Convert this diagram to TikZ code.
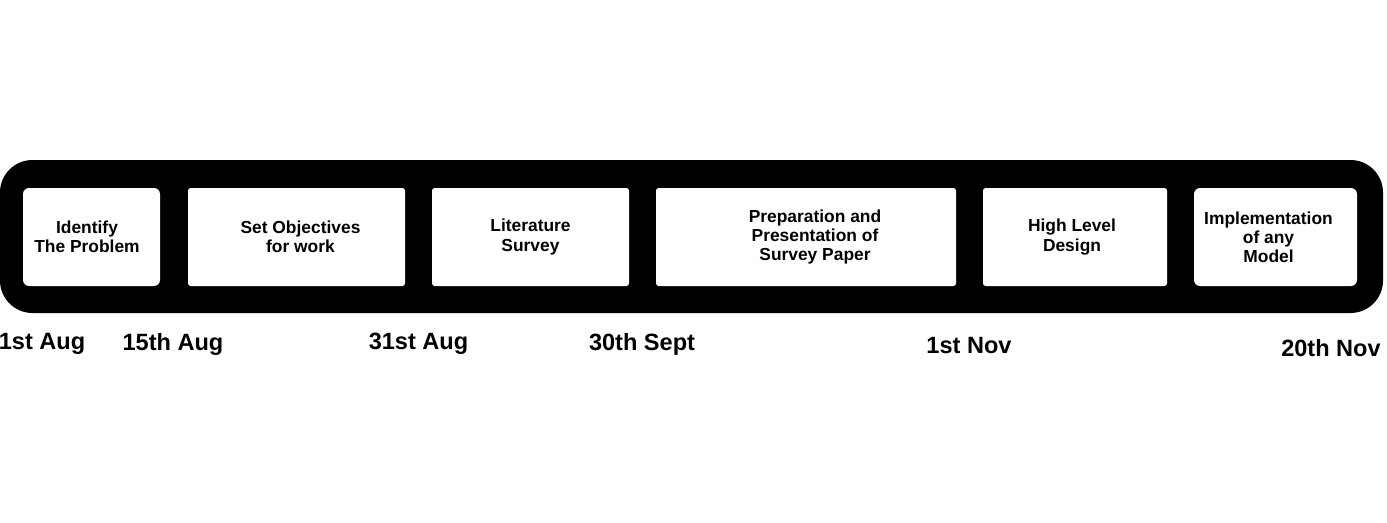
\documentclass[tikz,border=0pt]{standalone}
\usepackage{fontspec}
\setmainfont{Liberation Sans}
\usepackage{xcolor}
\usetikzlibrary{positioning}
\definecolor{ink}{HTML}{000000}
\definecolor{paper}{HTML}{FFFFFF}
\tikzset{
  bar/.style={fill=ink,rounded corners=0.65cm,inner sep=0pt,minimum width=27.66cm,minimum height=3.06cm},
  phase/.style={fill=paper,rounded corners=1.5pt,inner sep=0pt,minimum height=1.96cm},
  endphase/.style={phase,rounded corners=3.5pt},
  phasetext/.style={align=center,text=ink,inner sep=0pt,font=\fontsize{9.9}{10.9}\selectfont\bfseries},
  datelbl/.style={font=\fontsize{13.4}{15}\selectfont\bfseries,text=ink,inner sep=0pt},
}
\begin{document}
\begin{tikzpicture}
    \useasboundingbox (0,0) rectangle (27.74,10.44);
    % the black band, the white phases sit on it
    \node[bar] (band) at (13.83,5.71) {};
    \node[endphase,minimum width=2.74cm] (p1) at (1.83,5.70) {};
    \node[phase,minimum width=4.34cm] (p2) at (5.93,5.70) {};
    \node[phase,minimum width=3.94cm] (p3) at (10.61,5.70) {};
    \node[phase,minimum width=6.00cm] (p4) at (16.12,5.70) {};
    \node[phase,minimum width=3.68cm] (p5) at (21.50,5.70) {};
    \node[endphase,minimum width=3.26cm] (p6) at (25.51,5.70) {};
    \node[phasetext] (t1) at ([xshift=-0.09cm]p1.center) {Identify\\The Problem};
    \node[phasetext] (t2) at ([xshift=0.08cm]p2.center) {Set Objectives\\for work};
    \node[phasetext] (t3) at (p3.center) {Literature\\Survey};
    \node[phasetext] (t4) at ([xshift=0.18cm]p4.center) {Preparation and\\Presentation of\\Survey Paper};
    \node[phasetext] (t5) at ([xshift=-0.06cm]p5.center) {High Level\\Design};
    \node[phasetext] (t6) at ([xshift=-0.14cm]p6.center) {Implementation\\of any\\Model};
    % dates under the separators
    \node[datelbl] (d1) at (0.84,3.56) {1st Aug};
    \node[datelbl] (d2) at (3.46,3.56) {15th Aug};
    \node[datelbl] (d3) at (8.37,3.56) {31st Aug};
    \node[datelbl] (d4) at (12.84,3.56) {30th Sept};
    \node[datelbl] (d5) at (19.38,3.52) {1st Nov};
    \node[datelbl] (d6) at (26.62,3.48) {20th Nov};
\end{tikzpicture}
\end{document}
